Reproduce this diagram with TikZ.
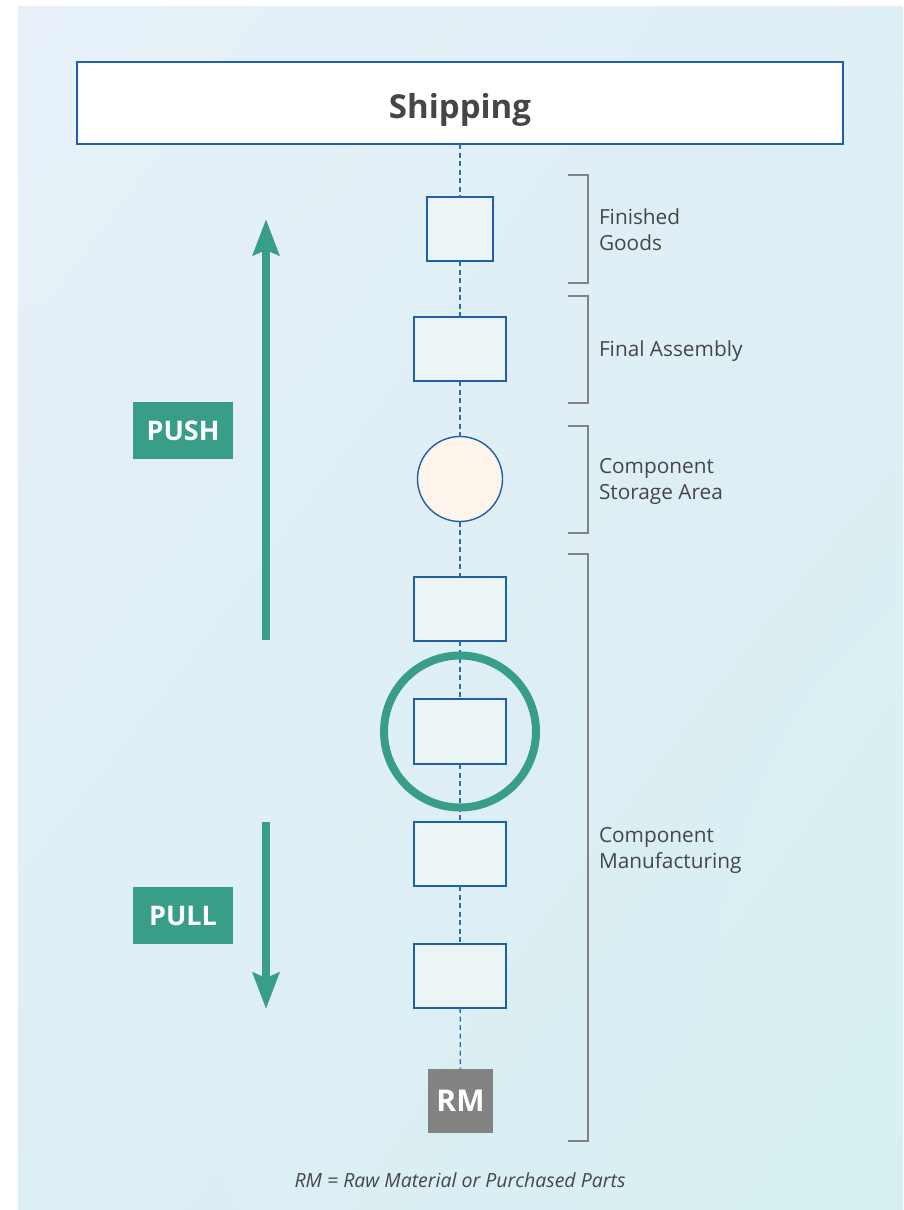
\documentclass[tikz,border=0pt]{standalone}
\usepackage{fontspec}
\setmainfont{Open Sans}
\usetikzlibrary{arrows.meta,shadings}

\definecolor{bgA}{RGB}{231,240,248}
\definecolor{bgB}{RGB}{222,239,245}
\definecolor{bgC}{RGB}{222,238,245}
\definecolor{bgD}{RGB}{214,240,241}
\definecolor{flowblue}{RGB}{31,95,166}
\definecolor{dashblue}{RGB}{46,108,178}
\definecolor{boxfill}{RGB}{235,245,245}
\definecolor{storefill}{RGB}{253,244,236}
\definecolor{pteal}{RGB}{56,158,136}
\definecolor{rmgray}{RGB}{131,131,131}
\definecolor{txtgray}{RGB}{70,70,70}
\definecolor{brkgray}{RGB}{130,130,130}

\begin{document}
\begin{tikzpicture}[x=1pt,y=-1pt,
  every node/.style={inner sep=0pt,outer sep=0pt},
  stage/.style={draw=flowblue,line width=1.4pt,fill=boxfill,rectangle,
    minimum width=92pt,minimum height=64pt},
  flowlink/.style={draw=dashblue,line width=1.3pt,dash pattern=on 5pt off 3.5pt},
  bracket/.style={draw=brkgray,line width=1.3pt},
  lbl/.style={anchor=west,align=left,text=txtgray,
    font=\fontsize{20.8}{26}\selectfont},
  tagbox/.style={fill=pteal,text=white,minimum width=100pt,minimum height=57pt,
    text depth=0pt,font=\fontsize{27}{30}\selectfont\bfseries},
  bigarrow/.style={draw=pteal,line width=8pt,
    -{Stealth[length=36pt,width=26pt,inset=5pt]}}
]
\useasboundingbox (0,0) rectangle (903,1210);

% background panel
\shade[upper left=bgA,upper right=bgB,lower left=bgC,lower right=bgD]
  (18,6) rectangle (903,1210);

% shipping
\node[draw=flowblue,line width=1.4pt,fill=white,minimum width=766pt,
  minimum height=82pt,text height=30pt,text depth=0pt,text=txtgray,
  font=\fontsize{33}{38}\selectfont\bfseries]
  (ship) at (460,103) {Shipping};

% process chain
\node[stage,minimum width=66pt] (fg) at (460,229) {};
\node[stage] (fa) at (460,349) {};
\node[draw=flowblue,line width=1.4pt,fill=storefill,circle,minimum size=85pt]
  (csa) at (460,479) {};
\node[stage] (m1) at (460,609) {};
\node[stage,minimum height=65pt] (m2) at (460,731.5) {};
\node[stage] (m3) at (460,854) {};
\node[stage] (m4) at (460,976) {};
\node[fill=rmgray,minimum width=65pt,minimum height=64pt,text=white,
  text depth=0pt,font=\fontsize{30}{32}\selectfont\bfseries] (rm) at (460.5,1101) {RM};

% dashed flow connections
\draw[flowlink] (ship) -- (fg);
\draw[flowlink] (fg) -- (fa);
\draw[flowlink] (fa) -- (csa);
\draw[flowlink] (csa) -- (m1);
\draw[flowlink] (m1) -- (m2);
\draw[flowlink] (m2) -- (m3);
\draw[flowlink] (m3) -- (m4);
\draw[flowlink] (m4) -- (rm);

% decoupling point ring
\draw[pteal,line width=8pt] (m2.center) circle[radius=76pt];

% brackets and labels
\draw[bracket] (568,175) -- (588,175) -- (588,283) -- (568,283);
\draw[bracket] (568,296) -- (588,296) -- (588,403) -- (568,403);
\draw[bracket] (568,426) -- (588,426) -- (588,533) -- (568,533);
\draw[bracket] (568,554) -- (588,554) -- (588,1141) -- (568,1141);

\node[lbl] (lfg) at (599,230) {Finished\\Goods};
\node[lbl] (lfa) at (599,351) {Final Assembly};
\node[lbl] (lcsa) at (599,481) {Component\\Storage Area};
\node[lbl] (lcm) at (599,850) {Component\\Manufacturing};

% push / pull
\coordinate (pushfrom) at (266,640);
\coordinate (pushto) at (266,219);
\coordinate (pullfrom) at (266,822);
\coordinate (pullto) at (266,1009);
\draw[bigarrow] (pushfrom) -- (pushto);
\draw[bigarrow] (pullfrom) -- (pullto);
\node[tagbox] (push) at (183,430.5) {PUSH};
\node[tagbox] (pull) at (183,915.5) {PULL};

% legend
\node[text=txtgray,font=\fontsize{19.5}{23}\selectfont\itshape] (legend)
  at (460,1180) {RM = Raw Material or Purchased Parts};
\end{tikzpicture}
\end{document}
